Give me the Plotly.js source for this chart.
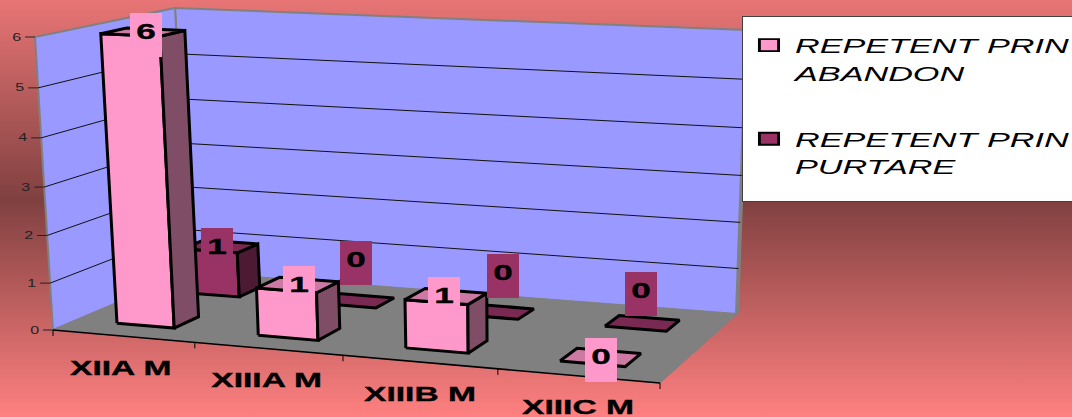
<!DOCTYPE html>
<html><head><meta charset="utf-8">
<script src="https://cdn.plot.ly/plotly-3.0.1.min.js"></script>
<style>html,body{margin:0;padding:0;width:1072px;height:417px;overflow:hidden;background:linear-gradient(#E87575 0,#804040 48%,#FF8080 100%)}#c{width:1072px;height:417px}</style>
</head><body><div id="c"></div><script>
const categories=['XIIA M','XIIIA M','XIIIB M','XIIIC M'];
const abandon=[6,1,1,0];
const purtare=[1,0,0,0];
const yTicks=[0,1,2,3,4,5,6];
const seriesNames=['REPETENT PRIN<br>ABANDON','REPETENT PRIN<br>PURTARE'];
const FONT='"Liberation Sans", Arial, sans-serif';
const STRETCH=1.6, LEGEND_STRETCH=1.63;
const yMax=6, n=categories.length;

// Oblique box of the 3-D chart: floor and top plane corners (FL, FR, BR, BL).
const floorQ=[[53,330],[660,383],[737,314],[190,272]];
const topQ=[[35,37],[668,65],[747,30],[175,8]];
function s2q(q){const [x0,y0]=q[0],[x1,y1]=q[1],[x2,y2]=q[2],[x3,y3]=q[3];
  const dx1=x1-x2,dx2=x3-x2,sx=x0-x1+x2-x3,dy1=y1-y2,dy2=y3-y2,sy=y0-y1+y2-y3;
  const d=dx1*dy2-dx2*dy1,g=(sx*dy2-dx2*sy)/d,h=(dx1*sy-sx*dy1)/d;
  return [x1-x0+g*x1,x3-x0+h*x3,x0,y1-y0+g*y1,y3-y0+h*y3,y0,g,h];}
const Hf=s2q(floorQ),Ht=s2q(topQ);
function ap(H,u,v){const w=H[6]*u+H[7]*v+1;return [(H[0]*u+H[1]*v+H[2])/w,(H[3]*u+H[4]*v+H[5])/w];}
function P(c,v,h){const u=c/n,a=ap(Hf,u,v),b=ap(Ht,u,v),t0=h/yMax,t=t0/(t0+(1-t0)*1.05);
  return [a[0]+(b[0]-a[0])*t,a[1]+(b[1]-a[1])*t];}

function poly(list,closed){const x=[],y=[];list.forEach(p=>{
  const pts=closed?p.concat([p[0]]):p;pts.forEach(q=>{x.push(q[0]);y.push(q[1]);});x.push(null);y.push(null);});return {x,y};}
function fillT(list,color,lw,lc){const d=poly(list,true);return {x:d.x,y:d.y,mode:'lines',fill:'toself',fillcolor:color,
  line:{color:lc||'#000',width:lw},hoverinfo:'skip',showlegend:false};}
function lineT(list,color,w){const d=poly(list,false);return {x:d.x,y:d.y,mode:'lines',line:{color:color,width:w},hoverinfo:'skip',showlegend:false};}

const traces=[];
// walls + floor
traces.push(fillT([[P(0,1,0),P(n,1,0),P(n,1,yMax),P(0,1,yMax)]],'#9999FF',2,'#808080'));
traces.push(fillT([[P(0,0,0),P(0,1,0),P(0,1,yMax),P(0,0,yMax)]],'#9999FF',2,'#808080'));
traces.push(fillT([[P(0,0,0),P(n,0,0),P(n,1,0),P(0,1,0)]],'#808080',1,'#808080'));
traces.push(lineT([[P(n,1,0),P(n,1,yMax)]],'#808080',4));
// gridlines
const grid=yTicks.filter(t=>t>0&&t<yMax);
traces.push(lineT(grid.map(t=>[P(0,0,t),P(0,1,t),P(n,1,t)]),'#111',1));
// axes and ticks
traces.push(lineT([[P(0,0,0),P(n,0,0)]],'#000',1.6));
traces.push(lineT(yTicks.map(t=>{const p=P(0,0,t);return [[p[0]-10,p[1]],p];}),'#222',1));
traces.push(lineT(categories.map((c,i)=>{const p=P(i+1,0,0);return [p,[p[0],p[1]+6]];}).concat([[P(0,0,0),[P(0,0,0)[0],P(0,0,0)[1]+6]]]),'#000',1));

// bars, painted back series first
const rows=[
 {vals:purtare,u:[0.28,0.69],v:[0.67,0.84],front:'#993366',side:'#4D1A33',top:'#7A2952',dx:[-5,-2,4,-4],lift:[0,0.92,0.85,0.7]},
 {vals:abandon,u:[0.29,0.70],v:[0.16,0.34],front:'#FF99CC',side:'#804D66',top:'#CC7AA3',dx:[2,1,-3,0],lift:[0,0,0,0]}];
rows.forEach(r=>{const F=[],S=[],T=[];
 r.vals.forEach((val,i)=>{const a=i+r.u[0],b=i+r.u[1],f=r.v[0],k=r.v[1];
  if(val>0){F.push([P(a,f,0),P(b,f,0),P(b,f,val),P(a,f,val)]);
   S.push([P(b,f,0),P(b,k,0),P(b,k,val),P(b,f,val)]);}
  T.push([P(a,f,val),P(b,f,val),P(b,k,val),P(a,k,val)]);});
 traces.push(fillT(F,r.front,3),fillT(S,r.side,3),fillT(T,r.top,3));});

// legend entries
[['#FF99CC',0],['#993366',1]].forEach(([c,i])=>traces.push({x:[null],y:[null],mode:'markers',name:seriesNames[i],legendgroup:'g'+i,
  marker:{symbol:'square',size:12,color:c,line:{color:'#000',width:2}},hoverinfo:'skip',showlegend:true}));

// annotations
const ann=[];
yTicks.forEach(t=>{const p=P(0,0,t);ann.push({x:p[0]-18,y:p[1],xref:'x',yref:'y',text:String(t),showarrow:false,
  font:{family:FONT,size:10,color:'#222'},xanchor:'center',yanchor:'middle'});});
const catDx=[-3,-2,0,0];
categories.forEach((c,i)=>{const p=P(i+0.5,0,0);ann.push({x:p[0]+catDx[i],y:p[1]+31,xref:'x',yref:'y',text:'<b>'+c+'</b>',showarrow:false,
  font:{family:FONT,size:21,color:'#000'},xanchor:'center',yanchor:'middle'});});
rows.forEach(r=>{r.vals.forEach((val,i)=>{
  const p=P(i+0.5,(r.v[0]+r.v[1])/2,val+r.lift[i]);
  ann.push({x:p[0]+r.dx[i],y:p[1]+3,xref:'x',yref:'y',text:'<b>'+val+'</b>',showarrow:false,width:32,height:44,bgcolor:r.front,borderwidth:0,borderpad:0,
   font:{family:FONT,size:22,color:'#000'},xanchor:'center',yanchor:'middle',valign:'middle',align:'center'});});});

const layout={width:1072,height:417,margin:{l:0,r:0,t:0,b:0,autoexpand:false},paper_bgcolor:'rgba(0,0,0,0)',plot_bgcolor:'rgba(0,0,0,0)',
 xaxis:{visible:false,range:[0,1072],fixedrange:true},yaxis:{visible:false,range:[417,0],fixedrange:true},
 showlegend:true,annotations:ann,
 legend:{x:742/1072,xanchor:'left',y:1-16/417,yanchor:'top',bgcolor:'#fff',bordercolor:'#404040',borderwidth:1,
  font:{family:FONT,size:21,color:'#000',style:'italic'},itemwidth:42,entrywidth:340,entrywidthmode:'pixels',valign:'top',tracegroupgap:36,itemclick:false,itemdoubleclick:false}};
function stretch(){
 document.querySelectorAll('.annotation-text').forEach(t=>{const b=t.getBBox(),c=b.x+b.width/2,big=parseInt(t.style.fontSize)>15,digit=big&&t.textContent.length===1;
  t.setAttribute('transform','translate('+c+','+(digit?-3:0)+') scale('+STRETCH+',1) translate('+(-c)+',0)');
  if(big){t.style.stroke='#000';t.style.strokeWidth='0.35px';}});
 document.querySelectorAll('.legendtext').forEach(t=>{const x=parseFloat(t.getAttribute('x'))||0;
  t.setAttribute('transform','translate('+x+',0) scale('+LEGEND_STRETCH+',1) translate('+(-x)+',0)');});
 document.querySelectorAll('.legend .legendpoints path').forEach(m=>{const tr=m.getAttribute('transform')||'';
  m.setAttribute('transform',tr+' scale('+STRETCH+',1)');m.style.strokeWidth='1.8px';});
 const bg=document.querySelector('.legend rect.bg');bg.setAttribute('width',340);bg.setAttribute('height',185);
 const sb=document.querySelector('.legend .scrollbox');sb.removeAttribute('clip-path');sb.style.clipPath='none';
 sb.setAttribute('transform','translate(0,8)');
}
Plotly.newPlot('c',traces,layout,{staticPlot:true,displayModeBar:false}).then(stretch);
</script></body></html>
